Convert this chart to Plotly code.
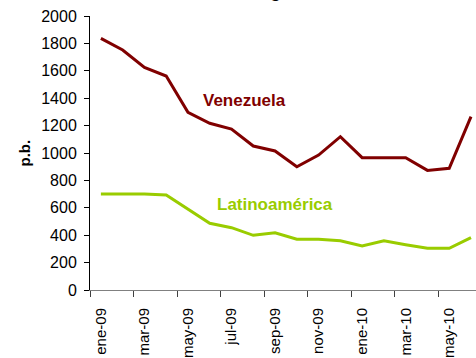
import plotly.graph_objects as go

# Monthly spread series (basis points), Jan-2009 to Jun-2010
months = ["ene-09", "feb-09", "mar-09", "abr-09", "may-09", "jun-09",
          "jul-09", "ago-09", "sep-09", "oct-09", "nov-09", "dic-09",
          "ene-10", "feb-10", "mar-10", "abr-10", "may-10", "jun-10"]
venezuela = [1837, 1752, 1625, 1562, 1297, 1217, 1175, 1051, 1015,
             900, 985, 1119, 966, 966, 966, 873, 888, 1265]
latam = [701, 701, 701, 693, 589, 487, 455, 399, 418,
         370, 370, 360, 321, 360, 331, 304, 304, 382]
y_ticks = list(range(0, 2001, 200))

FONT = "Liberation Sans, Arial, sans-serif"
X_RANGE = [-0.5, 17.23]

fig = go.Figure()
fig.add_trace(go.Scatter(x=months, y=venezuela, mode="lines",
                         line=dict(color="#800000", width=3),
                         name="Venezuela", showlegend=False))
fig.add_trace(go.Scatter(x=months, y=latam, mode="lines",
                         line=dict(color="#99CC00", width=3),
                         name="Latinoamérica", showlegend=False))

fig.update_layout(
    width=476, height=358,
    margin=dict(l=90, r=0, t=16, b=68),
    paper_bgcolor="white", plot_bgcolor="white",
    font=dict(family=FONT, color="black", size=16),
    xaxis=dict(type="category", range=X_RANGE,
               tickvals=months[::2], ticktext=months[::2],
               tickangle=-90, ticks="outside", ticklen=11,
               tickcolor="rgba(0,0,0,0)",
               showline=True, linecolor="#808080", linewidth=1,
               showgrid=False, zeroline=False,
               tickfont=dict(size=15)),
    # boundary tick marks every two months
    xaxis2=dict(overlaying="x", anchor="y", side="bottom",
                range=X_RANGE,
                tickvals=[i - 0.5 for i in range(0, len(months) + 1, 2)],
                ticks="outside", ticklen=6, tickcolor="#404040",
                showticklabels=False, showline=False,
                showgrid=False, zeroline=False),
    yaxis=dict(range=[0, 2000], tickvals=y_ticks,
               ticks="outside", ticklen=5, tickcolor="black",
               showline=True, linecolor="black", linewidth=1,
               showgrid=False, zeroline=False,
               tickfont=dict(size=16), ticklabelstandoff=4),
    annotations=[
        dict(text="Riesgo soberano", xref="paper", yref="paper",
             x=0.363, y=1.047, xanchor="left", yanchor="bottom",
             showarrow=False, font=dict(size=18, color="black",
                                        family=FONT, weight="bold")),
        dict(text="p.b.", xref="paper", yref="paper",
             x=-0.197, y=0.5, textangle=-90, showarrow=False,
             font=dict(size=15, color="black", family=FONT,
                       weight="bold")),
        dict(text="Venezuela", xref="x2", yref="y",
             x=6.6, y=1380, showarrow=False,
             font=dict(size=17, color="#800000", family=FONT,
                       weight="bold")),
        dict(text="Latinoamérica", xref="x2", yref="y",
             x=8.0, y=625, showarrow=False,
             font=dict(size=17, color="#99CC00", family=FONT,
                       weight="bold")),
    ],
)
# invisible trace so the tick-mark axis is drawn
fig.add_trace(go.Scatter(x=[X_RANGE[0]], y=[0], xaxis="x2", mode="markers",
                         marker=dict(opacity=0), showlegend=False,
                         hoverinfo="skip"))

fig.write_html("out.html")
